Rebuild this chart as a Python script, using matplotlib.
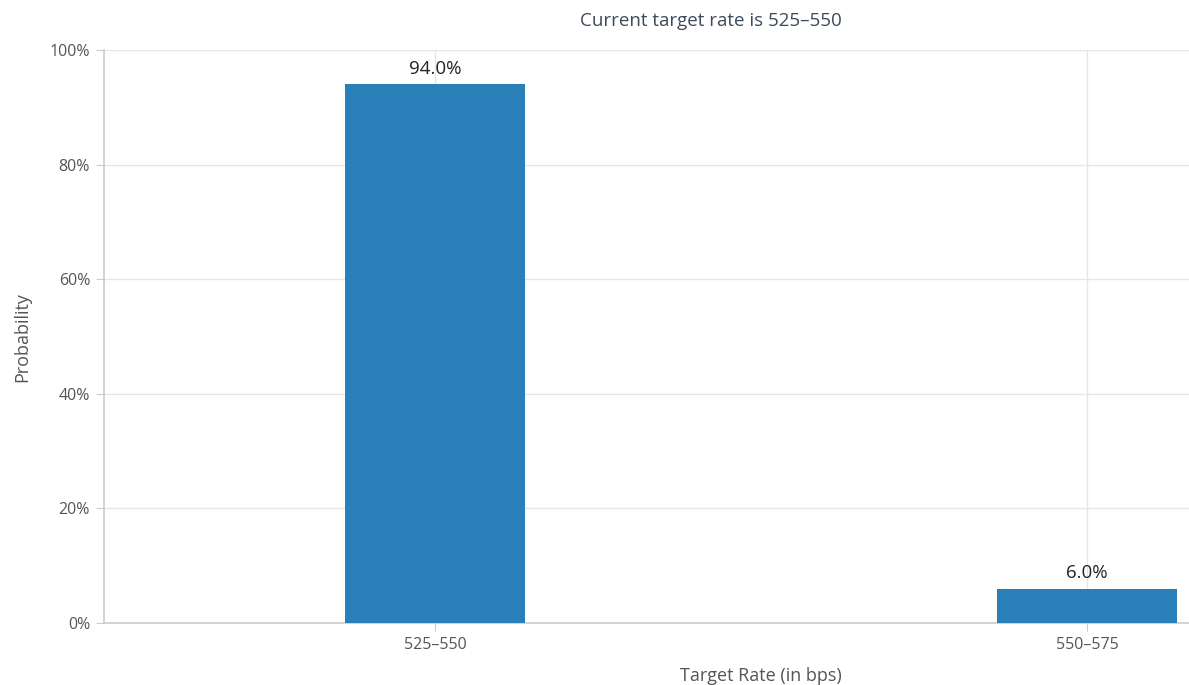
import matplotlib.pyplot as plt
import numpy as np

categories = ["525\u2013550", "550\u2013575"]
probabilities = [94.0, 6.0]
y_ticks = [0, 20, 40, 60, 80, 100]

plt.rcParams['font.family'] = ['Open Sans', 'DejaVu Sans']

fig = plt.figure(figsize=(11.89, 6.85), dpi=100)
ax = fig.add_axes([104 / 1189, 62 / 685, 1 - 104 / 1189, (623 - 50) / 685])

x = np.arange(len(categories))
bars = ax.bar(x, probabilities, width=0.276, color="#2980b9", zorder=3)
for b, v in zip(bars, probabilities):
    ax.text(b.get_x() + b.get_width() / 2, v + 1.2, f"{v:.1f}%", ha="center", va="bottom",
            fontsize=13.5, color="#222222", zorder=4)

ax.set_xlim(-0.508, 1.156)
ax.set_ylim(0, 100)
ax.set_xticks(x)
ax.set_xticklabels(categories, fontsize=11.5, color="#555555")
ax.set_yticks(y_ticks)
ax.set_yticklabels([f"{t}%" for t in y_ticks], fontsize=11.5, color="#555555")
ax.grid(True, color="#e6e6e6", linewidth=1, zorder=0)
ax.tick_params(axis="both", length=6, color="#cccccc", pad=4)
for s in ["top", "right"]:
    ax.spines[s].set_visible(False)
for s in ["left", "bottom"]:
    ax.spines[s].set_color("#cccccc")
    ax.spines[s].set_linewidth(1.2)

fig.text(711 / 1189, 1 - 21 / 685, "Current target rate is 525\u2013550", ha="center", va="center",
         fontsize=13.5, color="#3d4a5c")
fig.text(761 / 1189, 1 - 676 / 685, "Target Rate (in bps)", ha="center", va="center",
         fontsize=13, color="#555555")
fig.text(22 / 1189, 1 - 337 / 685, "Probability", ha="center", va="center", rotation=90,
         fontsize=13, color="#555555")

fig.savefig("out.png", dpi=100)
